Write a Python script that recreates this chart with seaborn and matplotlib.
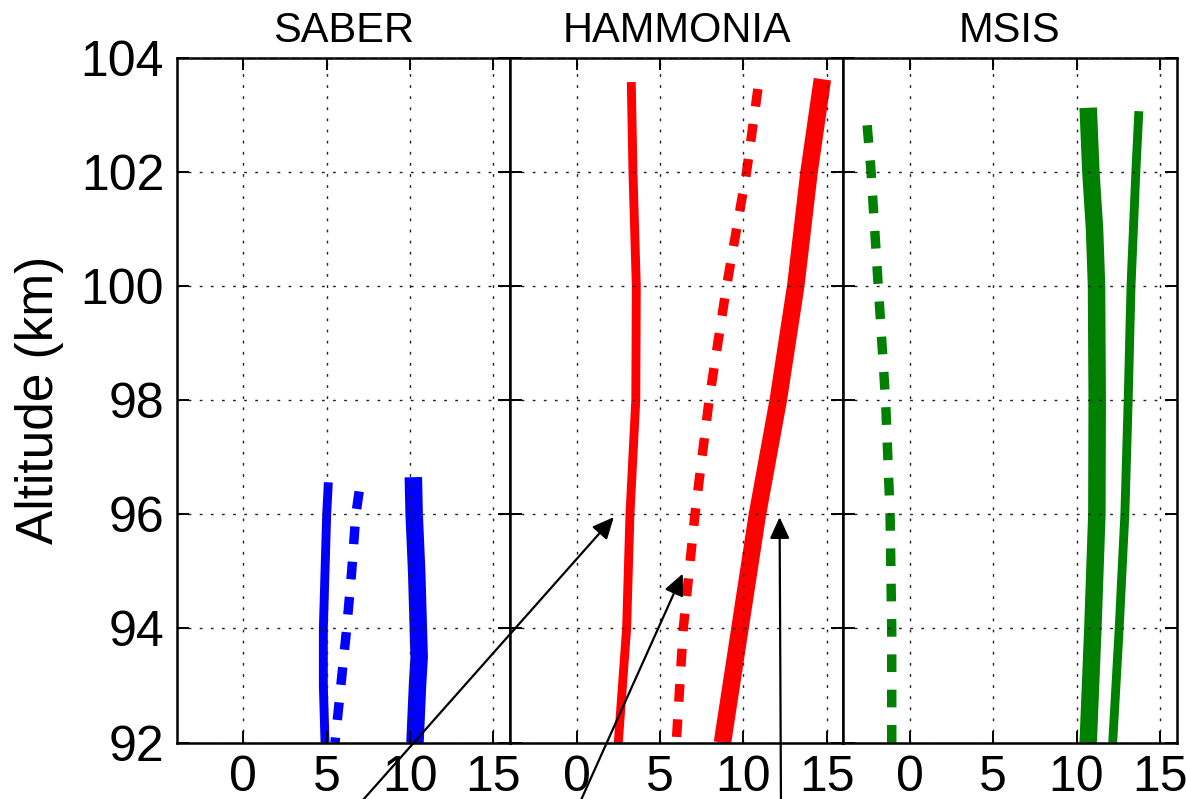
import matplotlib
matplotlib.use('Agg')
import matplotlib.pyplot as plt
import pandas as pd
import seaborn as sns

#region data
panel_titles = ['SABER', 'HAMMONIA', 'MSIS']
panel_colors = ['#0000ff', '#ff0000', '#008000']

saber_thin_alt = [96.56, 96.0, 95.0, 94.0, 93.0, 92.0]
saber_thin_val = [5.1, 5.0, 4.9, 4.8, 4.8, 4.9]
saber_dash_alt = [96.4, 96.0, 95.0, 94.0, 93.0, 92.0]
saber_dash_val = [6.95, 6.75, 6.5, 6.2, 5.85, 5.5]
saber_thick_alt = [96.65, 96.0, 95.0, 94.0, 93.5, 93.0, 92.0]
saber_thick_val = [10.2, 10.25, 10.4, 10.5, 10.55, 10.45, 10.3]

ham_thin_alt = [103.57, 102.0, 100.0, 98.0, 96.0, 94.0, 92.0]
ham_thin_val = [3.28, 3.38, 3.58, 3.55, 3.2, 3.0, 2.5]
ham_dash_alt = [92.1, 94.0, 96.0, 98.0, 100.0, 102.0, 103.5]
ham_dash_val = [6.0, 6.4, 7.1, 7.95, 9.0, 10.2, 10.9]
ham_thick_alt = [92.0, 94.0, 96.0, 98.0, 100.0, 102.0, 103.62]
ham_thick_val = [8.75, 9.8, 10.85, 12.1, 13.15, 13.95, 14.75]

msis_thin_alt = [103.06, 102.0, 100.0, 98.0, 96.0, 94.0, 92.0]
msis_thin_val = [13.74, 13.56, 13.27, 13.1, 12.9, 12.56, 12.17]
msis_dash_alt = [92.0, 94.0, 96.0, 98.0, 100.0, 102.0, 103.0]
msis_dash_val = [-1.09, -1.09, -1.19, -1.46, -1.9, -2.33, -2.62]
msis_thick_alt = [103.12, 102.0, 101.0, 100.0, 98.0, 96.0, 94.0, 92.0]
msis_thick_val = [10.7, 10.86, 11.08, 11.2, 11.24, 11.22, 10.98, 10.7]

x_ticks = [0, 5, 10, 15]
y_ticks = [92, 94, 96, 98, 100, 102, 104]

# arrow heads point at the HAMMONIA profiles (data units of that panel)
arrow_head_x = [2.23, 6.37, 12.18]
arrow_head_y = [95.95, 94.96, 95.95]
#endregion

def to_frame(panel, kind, alt, val):
    return pd.DataFrame({'panel': panel, 'kind': kind, 'alt': alt, 'val': val})

df = pd.concat([
    to_frame('SABER', 'thin', saber_thin_alt, saber_thin_val),
    to_frame('SABER', 'dash', saber_dash_alt, saber_dash_val),
    to_frame('SABER', 'thick', saber_thick_alt, saber_thick_val),
    to_frame('HAMMONIA', 'thin', ham_thin_alt, ham_thin_val),
    to_frame('HAMMONIA', 'dash', ham_dash_alt, ham_dash_val),
    to_frame('HAMMONIA', 'thick', ham_thick_alt, ham_thick_val),
    to_frame('MSIS', 'thin', msis_thin_alt, msis_thin_val),
    to_frame('MSIS', 'dash', msis_dash_alt, msis_dash_val),
    to_frame('MSIS', 'thick', msis_thick_alt, msis_thick_val),
])

line_kw = {
    'thin': dict(lw=6.4, linestyle='-'),
    'dash': dict(lw=6.8, linestyle=(0, (1.87, 1.87))),
    'thick': dict(lw=12.6, linestyle='-'),
}

sns.set_theme(style='ticks')
plt.rcParams['font.family'] = ['Liberation Sans', 'DejaVu Sans']
plt.rcParams['axes.linewidth'] = 1.8
plt.rcParams['text.color'] = 'black'
plt.rcParams['axes.labelcolor'] = 'black'
plt.rcParams['xtick.color'] = 'black'
plt.rcParams['ytick.color'] = 'black'

fig, axes = plt.subplots(1, 3, sharey=True, figsize=(11.86, 7.99), dpi=100)
fig.subplots_adjust(left=0.149, right=0.992, top=0.928, bottom=0.0705, wspace=0)

for ax, title, color in zip(axes, panel_titles, panel_colors):
    sub = df[df['panel'] == title]
    for kind in ['thin', 'dash', 'thick']:
        d = sub[sub['kind'] == kind]
        sns.lineplot(data=d, x='val', y='alt', ax=ax, color=color, sort=False,
                     estimator=None, solid_capstyle='butt', **line_kw[kind])
    ax.set_xlim(-4, 16)
    ax.set_ylim(92, 104)
    ax.set_xticks(x_ticks)
    ax.set_yticks(y_ticks)
    ax.set_xlabel('')
    ax.set_ylabel('')
    ax.set_axisbelow(False)
    ax.grid(True, color='#222222', lw=1.0, linestyle=(0, (2, 6)))
    ax.tick_params(direction='in', top=True, right=True, length=8.6, width=1.4,
                   labelsize=36, pad=9, color='black', labelcolor='black')
    for sp in ax.spines.values():
        sp.set_color('black')
        sp.set_linewidth(1.8)
    ax.set_title(title, fontsize=30, pad=11, color='black')

axes[0].set_ylabel('Altitude (km)', fontsize=37, labelpad=12, color='black')

# arrows from below the figure edge up to the HAMMONIA lines
arrow_tail_px = [(355, -10), (577, -10), (781, -10)]
for hx, hy, (tx, ty) in zip(arrow_head_x, arrow_head_y, arrow_tail_px):
    axes[1].annotate('', xy=(hx, hy), xycoords='data',
                     xytext=(tx / 1186, ty / 799), textcoords='figure fraction',
                     annotation_clip=False,
                     arrowprops=dict(arrowstyle='-|>,head_length=1.3,head_width=0.6',
                                     mutation_scale=10, lw=1.6, color='black',
                                     shrinkA=0, shrinkB=0))

fig.savefig('out.png', dpi=100)
